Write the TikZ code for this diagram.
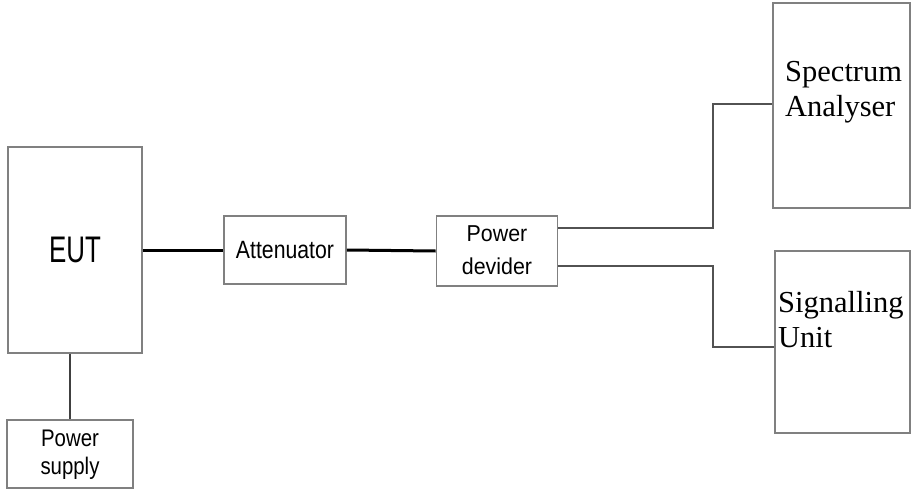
\documentclass[tikz,border=0pt]{standalone}
\usepackage{fontspec}
\setmainfont{Liberation Serif}
\newfontfamily\arialf{Liberation Sans}
\usetikzlibrary{calc}
\tikzset{
  box/.style={draw=black!50, line width=1.6pt, inner sep=0pt, align=center},
  link/.style={line width=3pt, draw=black},
  glink/.style={line width=2.6pt, draw=black!68},
  thin/.style={line width=1.3pt, draw=black!75},
  serift/.style={anchor=base west, inner sep=0pt, align=left, font=\fontsize{30.5}{35}\selectfont}
}
\begin{document}
\begin{tikzpicture}[x=1pt,y=-1pt]
\useasboundingbox (0,0) rectangle (912,495);
\node[box, minimum width=134pt, minimum height=206pt] (eut) at (75,250)
  {\scalebox{0.7}[1]{\fontsize{37}{40}\arialf EUT}};
\node[box, minimum width=122pt, minimum height=68pt] (att) at (285,250)
  {\scalebox{0.85}[1]{\fontsize{25}{30}\arialf Attenuator}};
\node[box, minimum width=121pt, minimum height=70pt] (pd) at (497,251)
  {\scalebox{0.93}[1]{\fontsize{23}{34}\arialf\begin{tabular}{@{}c@{}}Power\\[-1pt] devider\end{tabular}}};
\node[box, minimum width=126pt, minimum height=68pt] (ps) at (70,454)
  {\scalebox{0.85}[1]{\fontsize{24}{30}\arialf\begin{tabular}{@{}c@{}}Power\\[-2pt] supply\end{tabular}}};
\node[box, minimum width=137pt, minimum height=205pt] (sa) at (841.5,105.5) {};
\node[box, minimum width=135pt, minimum height=182pt] (su) at (842.5,342) {};
\node[serift] (satext) at (785,116) {Spectrum\\Analyser};
\node[serift] (sutext) at (778,347) {Signalling\\Unit};
\coordinate (k1) at (713,104);
\coordinate (k2) at (713,347);
\draw[link] (eut.east) -- (att.west);
\draw[link] (att.east) -- (pd.west);
\draw[glink] ([yshift=23pt]pd.east) -| (k1) -- (k1 -| sa.west);
\draw[glink] ([yshift=-15pt]pd.east) -| (k2) -- (k2 -| su.west);
\draw[thin] (eut.south -| ps.north) -- (ps.north);
\end{tikzpicture}
\end{document}
